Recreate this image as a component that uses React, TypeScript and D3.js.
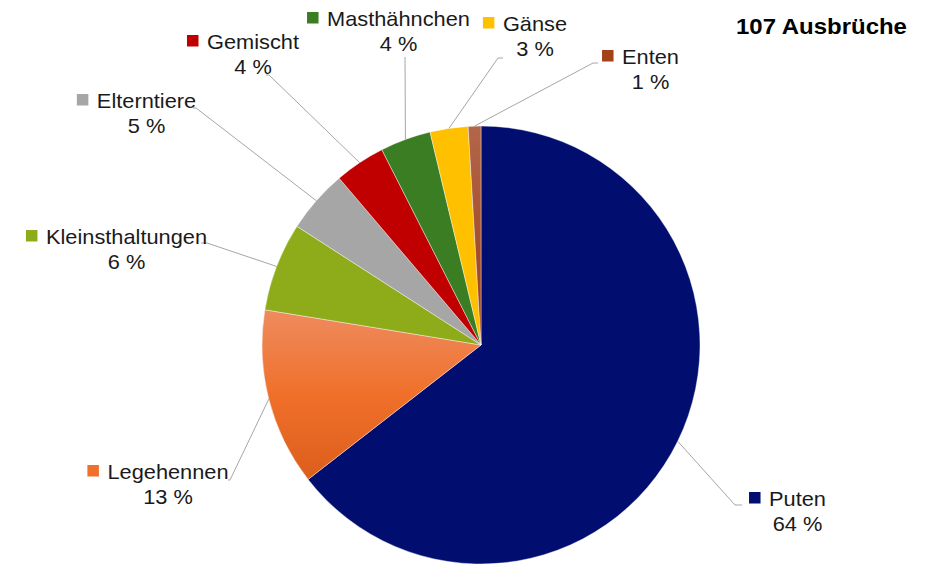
import React, { useEffect, useRef } from "react";
import * as d3 from "d3";

const categories = ["Puten", "Legehennen", "Kleinsthaltungen", "Elterntiere", "Gemischt", "Masthähnchen", "Gänse", "Enten"];
const outbreaks = [69, 14, 7, 5, 4, 4, 3, 1];
const percentLabels = ["64 %", "13 %", "6 %", "5 %", "4 %", "4 %", "3 %", "1 %"];
const title = "107 Ausbrüche";

const sliceColors = ["#010e70", "url(#gLege)", "#8eac19", "#a6a6a6", "#c00000", "#3b7d23", "#ffc000", "url(#gEnten)"];
const markerColors = ["#010e70", "#ef6f2c", "#8eac19", "#a6a6a6", "#c00000", "#3b7d23", "#ffc000", "#a3421a"];

// label layout: center x of name, baseline of name, elbow and end of leader line
const labelLayout = [
  { cx: 797.5, y: 506, elbow: [735, 505], end: [742, 505] },
  { cx: 168, y: 479, elbow: [230, 480], end: [228, 480] },
  { cx: 126.5, y: 244, elbow: [207, 243], end: [201, 243] },
  { cx: 146.5, y: 108, elbow: [196, 108], end: [193, 108] },
  { cx: 253, y: 49, elbow: [269, 75], end: [266, 75] },
  { cx: 398.5, y: 26, elbow: [405, 57], end: [405, 57] },
  { cx: 535, y: 31, elbow: [498, 58], end: [503, 58] },
  { cx: 650.5, y: 64, elbow: [593, 63], end: [598, 63] },
];

const W = 929, H = 565;
const CX = 481, CY = 345, R = 219;
const SX = 1.09;
const FONT = "'Liberation Sans', Arial, sans-serif";

export default function App() {
  const ref = useRef<SVGSVGElement | null>(null);
  useEffect(() => {
    const svg = d3.select(ref.current);
    svg.selectAll("*").remove();
    const defs = svg.append("defs");
    const g1 = defs.append("linearGradient").attr("id", "gLege").attr("x1", 0).attr("y1", 0).attr("x2", 0).attr("y2", 1);
    g1.append("stop").attr("offset", "0%").attr("stop-color", "#ee8b5f");
    g1.append("stop").attr("offset", "50%").attr("stop-color", "#f0702a");
    g1.append("stop").attr("offset", "100%").attr("stop-color", "#dc5e1c");
    const g2 = defs.append("linearGradient").attr("id", "gEnten").attr("x1", 0).attr("y1", 0).attr("x2", 0).attr("y2", 1);
    g2.append("stop").attr("offset", "0%").attr("stop-color", "#b3664a");
    g2.append("stop").attr("offset", "100%").attr("stop-color", "#993d16");

    const pie = d3.pie<number>().sort(null).value((d) => d)(outbreaks);
    const arc = d3.arc<d3.PieArcDatum<number>>().innerRadius(0).outerRadius(R);
    const gp = svg.append("g").attr("transform", `translate(${CX},${CY})`);
    gp.selectAll("path")
      .data(pie)
      .join("path")
      .attr("d", arc)
      .attr("fill", (_d, i) => sliceColors[i])
      .attr("stroke", "rgba(255,255,255,0.5)")
      .attr("stroke-width", 0.8);

    // leader lines
    pie.forEach((p, i) => {
      const a = (p.startAngle + p.endAngle) / 2;
      const sx = CX + R * Math.sin(a);
      const sy = CY - R * Math.cos(a);
      const L = labelLayout[i];
      svg.append("polyline")
        .attr("points", `${sx},${sy} ${L.elbow[0]},${L.elbow[1]} ${L.end[0]},${L.end[1]}`)
        .attr("fill", "none")
        .attr("stroke", "#a6a6a6")
        .attr("stroke-width", 1);
    });

    // labels
    categories.forEach((c, i) => {
      const L = labelLayout[i];
      const t = svg.append("text")
        .attr("transform", `translate(${L.cx},${L.y}) scale(${SX},1)`)
        .attr("text-anchor", "middle")
        .attr("font-family", FONT)
        .attr("font-size", 20)
        .attr("fill", "#1a1a1a")
        .text(c);
      const w = (t.node() as SVGTextElement).getComputedTextLength() * SX;
      svg.append("text")
        .attr("transform", `translate(${L.cx},${L.y + 24.5}) scale(${SX},1)`)
        .attr("text-anchor", "middle")
        .attr("font-family", FONT)
        .attr("font-size", 20)
        .attr("fill", "#1a1a1a")
        .text(percentLabels[i]);
      svg.append("rect")
        .attr("x", L.cx - w / 2 - 8.5 - 11.5)
        .attr("y", L.y - 14)
        .attr("width", 11.5)
        .attr("height", 11.5)
        .attr("fill", markerColors[i]);
    });

    svg.append("text")
      .attr("transform", `translate(736,34) scale(${SX},1)`)
      .attr("font-family", FONT)
      .attr("font-size", 22)
      .attr("font-weight", "bold")
      .attr("fill", "#000")
      .text(title);
  }, []);
  return (
    <svg ref={ref} width={W} height={H} style={{ position: "absolute", left: 0, top: 0, background: "#fff" }} />
  );
}
